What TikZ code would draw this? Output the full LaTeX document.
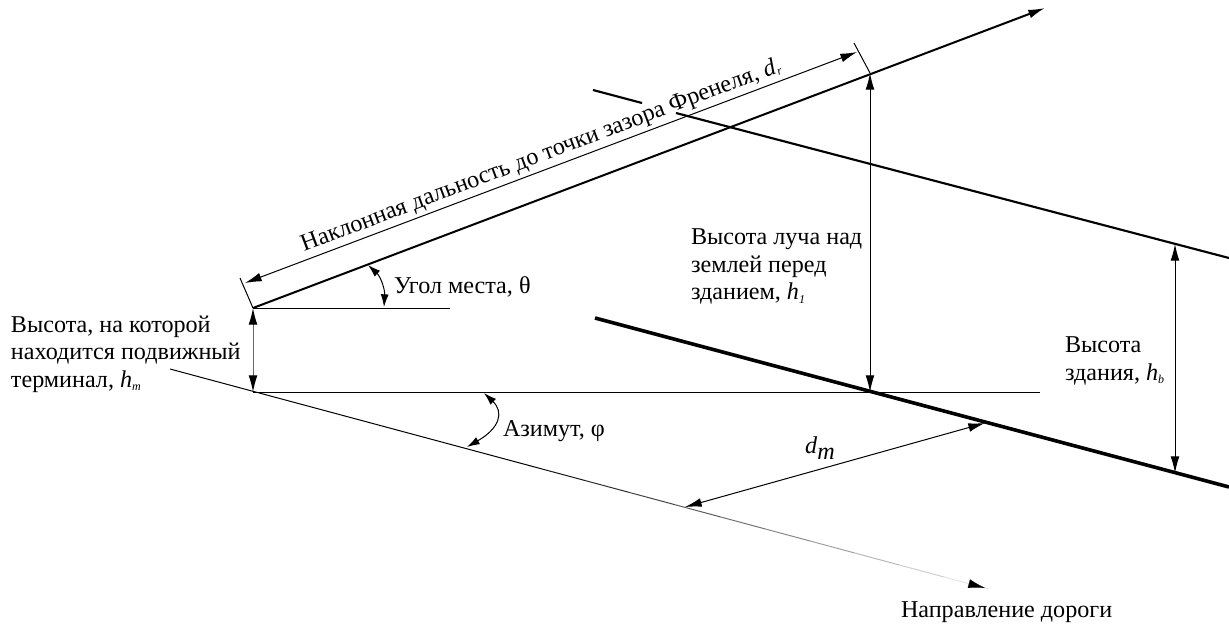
\documentclass[tikz,border=0pt]{standalone}
\usepackage{fontspec}
\setmainfont{Liberation Serif}
\usetikzlibrary{arrows.meta,calc}
\tikzset{
  big/.tip={Latex[length=12.5pt,width=6.6pt,black]},
  small/.tip={Latex[length=9.5pt,width=6pt,black]},
  thin line/.style={line width=0.75pt},
  beam/.style={line width=1.5pt},
  edge near/.style={line width=2.7pt},
  edge far/.style={line width=1.6pt},
  dim/.style={thin line,big-big},
  label/.style={inner sep=0,outer sep=0,font=\fontsize{18.1}{20.6}\selectfont,align=left}
}
\newcommand{\qty}[2]{\textit{#1}\raisebox{-2.5pt}{\fontsize{9}{9}\selectfont\textit{#2}}}
\begin{document}
\begin{tikzpicture}[x=0.75pt,y=-0.75pt]
    \useasboundingbox (0,0) rectangle (1229,626);
    % Points on the beam, the ground and the road
    \coordinate (A) at (253,308);
    \coordinate (B) at (253,392);
    \coordinate (F) at (870,73);
    \coordinate (G) at (870,392);
    \coordinate (BeamEnd) at (1045,8);
    \coordinate (ElevEnd) at (450,308);
    \coordinate (GroundEnd) at (1040,392);
    \coordinate (RoadStart) at (170,369);
    \coordinate (RoadEnd) at (985,588);
    % Building edges
    \coordinate (NearS) at (595,318);
    \coordinate (NearE) at (1229,487);
    \coordinate (FarA) at (593,90);
    \coordinate (FarB) at (642,103);
    \coordinate (FarS) at (676,113);
    \coordinate (FarE) at (1229,258);
    \coordinate (TopH) at (1175,244);
    \coordinate (BotH) at (1175,473);
    % Dimension ends
    \coordinate (TickA) at (240,278);
    \coordinate (TickF) at (854,43);
    \coordinate (DimA) at (245,283);
    \coordinate (DimF) at (857,52);
    \coordinate (DmA) at (685,507);
    \coordinate (DmB) at (985,423);
    % Lines
    \draw[beam,-big] (A) -- (BeamEnd);
    \draw[thin line] (A) -- (ElevEnd);
    \draw[thin line] (B) -- (GroundEnd);
    \draw[edge near] (NearS) -- (NearE);
    \draw[edge far] (FarA) -- (FarB);
    \draw[edge far] (FarS) -- (FarE);
    \draw[thin line] (TickA) -- (A);
    \draw[thin line] (TickF) -- (F);
    % Road line goes pale towards its end
    \draw[thin line] (RoadStart) -- ($(RoadStart)!0.4!(RoadEnd)$);
    \foreach \i [evaluate=\i as \g using 100-9*\i] in {0,...,10}
      \draw[thin line,black!\g] ($(RoadStart)!0.4+0.055*\i!(RoadEnd)$) -- ($(RoadStart)!0.455+0.055*\i!(RoadEnd)$);
    \draw[-big,line width=0.1pt,black!10] ($(RoadStart)!0.96!(RoadEnd)$) -- (RoadEnd);
    % Dimensions
    \draw[dim] (DimA) -- (DimF);
    \draw[dim,black!60] (A) -- (B);
    \draw[dim] (F) -- (G);
    \draw[dim] (TopH) -- (BotH);
    \draw[dim] (DmA) -- (DmB);
    % Angles
    \coordinate (ElA) at (368,265);
    \coordinate (ElB) at (384,307);
    \coordinate (AzA) at (484,393);
    \coordinate (AzB) at (467,447);
    \draw[thin line,small-small] (ElA) .. controls (381,277) and (385,290) .. (ElB);
    \draw[thin line,small-small] (AzA) .. controls (504,412) and (500,428) .. (AzB);
    % Labels
    \node[label,anchor=center,rotate=20.7] (Ldr) at (541,156) {Наклонная дальность до точки зазора Френеля, \qty{d}{r}};
    \node[label,anchor=west] (Lel) at (394,287) {Угол места, θ};
    \node[label,anchor=north west] (Lhm) at (11,316) {Высота, на которой\\находится подвижный\\терминал, \qty{h}{m}};
    \node[label,anchor=west] (Laz) at (503,431) {Азимут, φ};
    \node[label,anchor=north west] (Lh1) at (691,229) {Высота луча над\\землей перед\\зданием, \qty{h}{1}};
    \node[label,anchor=north west] (Lhb) at (1065,337) {Высота\\здания, \qty{h}{b}};
    \node[label,anchor=center] (Ldm) at (820,448) {\textit{d}\raisebox{-5pt}{\textit{m}}};
    \node[label,anchor=west] (Lroad) at (901,612) {Направление дороги};
  \end{tikzpicture}
\end{document}
